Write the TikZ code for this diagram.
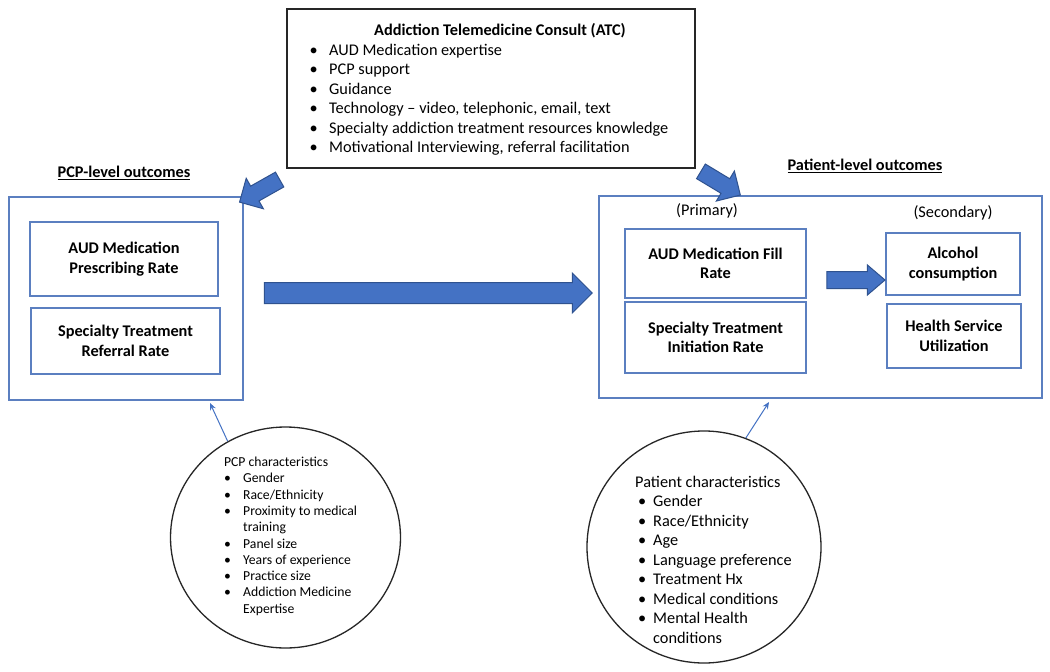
\documentclass[tikz,border=0pt]{standalone}
\usepackage{fontspec}
\setmainfont{Carlito}
\usetikzlibrary{shapes.geometric,shapes.arrows,arrows.meta,positioning,calc}

\definecolor{boxblue}{HTML}{5B7FC0}
\definecolor{arrowfill}{HTML}{4472C4}
\definecolor{arrowline}{HTML}{2F528F}

\newcommand{\bodyfont}{\fontsize{16.3}{19.5}\selectfont}
\newcommand{\smallfont}{\fontsize{13.7}{16.3}\selectfont}
\newcommand{\bul}[1][19.6pt]{\makebox[#1][l]{\textbullet}}

\tikzset{
  outbox/.style={draw=boxblue, line width=1.3pt, inner sep=0pt},
  measbox/.style={draw=boxblue, line width=1.3pt, align=center, font=\bodyfont\bfseries, inner sep=0pt},
  heading/.style={font=\bodyfont\bfseries, inner sep=0pt},
  listtext/.style={align=left, inner sep=0pt, anchor=north west},
  charcircle/.style={ellipse, draw=black!85, line width=1.3pt, inner sep=0pt},
  blockarrow/.style={single arrow, fill=arrowfill, draw=arrowline, line width=1pt,
    inner xsep=0pt, single arrow head indent=0pt},
  linkarrow/.style={draw=arrowfill, line width=1pt, -{Stealth[length=7pt,width=6pt]}}
}

\begin{document}
\begin{tikzpicture}[x=1pt, y=-1pt, font=\bodyfont]
  \fill[white] (0,0) rectangle (1050,672);
  \useasboundingbox (0,0) rectangle (1050,672);

  % Consult box at the top
  \node[draw=black!85, line width=1.3pt, minimum width=408, minimum height=159] (atc) at (491,88.5) {};
  \node[heading] (atctitle) at (500,31) {Addiction Telemedicine Consult (ATC)};
  \node[listtext] (atclist) at (309.4,43.5) {%
    \bul AUD Medication expertise\\
    \bul PCP support\\
    \bul Guidance\\
    \bul Technology -- video, telephonic, email, text\\
    \bul Specialty addiction treatment resources knowledge\\
    \bul Motivational Interviewing, referral facilitation};

  % PCP-level outcomes
  \node[heading] (pcphead) at (124,173) {\underline{PCP-level outcomes}};
  \node[outbox, minimum width=234, minimum height=203] (pcpbox) at (126,298.5) {};
  \node[measbox, minimum width=188, minimum height=74] (prescribe) at (124,259)
    {AUD Medication\\Prescribing Rate};
  \node[measbox, minimum width=189, minimum height=66] (referral) at (125.5,341)
    {Specialty Treatment\\Referral Rate};

  % Patient-level outcomes
  \node[heading] (pathead) at (865,166) {\underline{Patient-level outcomes}};
  \node[outbox, minimum width=443, minimum height=202] (patbox) at (820.5,297) {};
  \node[inner sep=0pt] (primary) at (707,211) {(Primary)};
  \node[inner sep=0pt] (secondary) at (953,213) {(Secondary)};
  \node[measbox, minimum width=181, minimum height=69] (fill) at (715.5,263.5)
    {AUD Medication Fill\\Rate};
  \node[measbox, minimum width=181, minimum height=71] (initiation) at (715.5,337.5)
    {Specialty Treatment\\Initiation Rate};
  \node[measbox, minimum width=134, minimum height=62] (alcohol) at (953,264)
    {Alcohol\\consumption};
  \node[measbox, minimum width=134, minimum height=64] (service) at (954,336)
    {Health Service\\Utilization};

  % Block arrows
  \node[blockarrow, minimum height=328, inner ysep=10, single arrow head extend=9.5]
    (mainarrow) at (423,293) {};
  \node[blockarrow, minimum height=58, inner ysep=8, single arrow head extend=6.5,
    single arrow tip angle=81] (fill2alcohol) at (851,280) {};
  \node[blockarrow, minimum height=46, inner ysep=8, single arrow head extend=9,
    rotate=209.4] (atc2pcp) at (263.3,188.75) {};
  \node[blockarrow, minimum height=46, inner ysep=8, single arrow head extend=9,
    rotate=-31] (atc2pat) at (717,181) {};

  % Characteristics circles
  \node[charcircle, minimum width=230, minimum height=221] (pcpchar) at (285.5,537.5) {};
  \node[listtext, font=\smallfont] (pcplist) at (223.8,456.8) {%
    PCP characteristics\\
    \bul[19.2pt]Gender\\
    \bul[19.2pt]Race/Ethnicity\\
    \bul[19.2pt]Proximity to medical\\
    \hspace*{19.2pt}training\\
    \bul[19.2pt]Panel size\\
    \bul[19.2pt]Years of experience\\
    \bul[19.2pt]Practice size\\
    \bul[19.2pt]Addiction Medicine\\
    \hspace*{19.2pt}Expertise};
  \node[charcircle, minimum width=234, minimum height=232] (patchar) at (704,547) {};
  \node[listtext] (patlist) at (638,475.8) {%
    \hspace*{-3pt}Patient characteristics\\
    \bul[15pt]Gender\\
    \bul[15pt]Race/Ethnicity\\
    \bul[15pt]Age\\
    \bul[15pt]Language preference\\
    \bul[15pt]Treatment Hx\\
    \bul[15pt]Medical conditions\\
    \bul[15pt]Mental Health\\
    \hspace*{15pt}conditions};

  % Links from characteristics to outcomes
  \coordinate (pcptip) at (210,403);
  \coordinate (pattip) at (769,402);
  \draw[linkarrow] (pcpchar.121) -- (pcptip);
  \draw[linkarrow] (patchar.69) -- (pattip);
\end{tikzpicture}
\end{document}
